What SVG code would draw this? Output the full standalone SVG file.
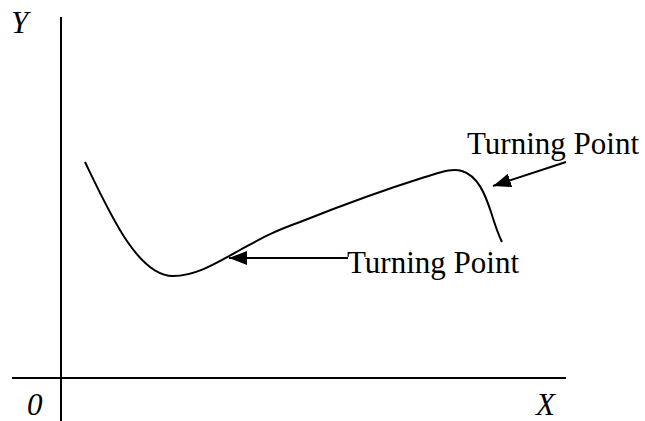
<svg xmlns="http://www.w3.org/2000/svg" width="645" height="421" viewBox="0 0 645 421">
<style>
.ax{stroke:#000;stroke-width:2;fill:none}
.cv{stroke:#000;stroke-width:2;fill:none}
.ar{stroke:#000;stroke-width:2;fill:none}
text{font-family:'Liberation Serif','Times New Roman',serif;font-size:31px;fill:#000}
.it{font-style:italic}
</style>
<defs>
<marker id="ah" markerUnits="userSpaceOnUse" markerWidth="20" markerHeight="14" refX="18" refY="7" orient="auto">
<path d="M0,0 L18,7 L0,14 Z" fill="#000"/>
</marker>
</defs>
<g id="axes">
<line class="ax" x1="61" y1="17" x2="61" y2="421"/>
<line class="ax" x1="12" y1="378" x2="566" y2="378"/>
</g>
<g id="curve">
<path class="cv" d="M85,162 C110,214 138,276 173,276 C195,276 215,264 240,250 C262,238 272,232 300,222 C340,206 390,188 425,177 C442,172 452,168 462,171 C478,176 485,194 491,212 C495,225 498,234 502,242"/>
</g>
<g id="connectors">
<line class="ar" x1="566" y1="162" x2="493" y2="186" marker-end="url(#ah)"/>
<line class="ar" x1="348" y1="258" x2="229" y2="258" marker-end="url(#ah)"/>
</g>
<g id="labels">
<text class="it" x="11" y="33">Y</text>
<text class="it" x="27" y="415">0</text>
<text class="it" x="536" y="415">X</text>
<text x="467" y="154">Turning Point</text>
<text x="347" y="273">Turning Point</text>
</g>
</svg>
